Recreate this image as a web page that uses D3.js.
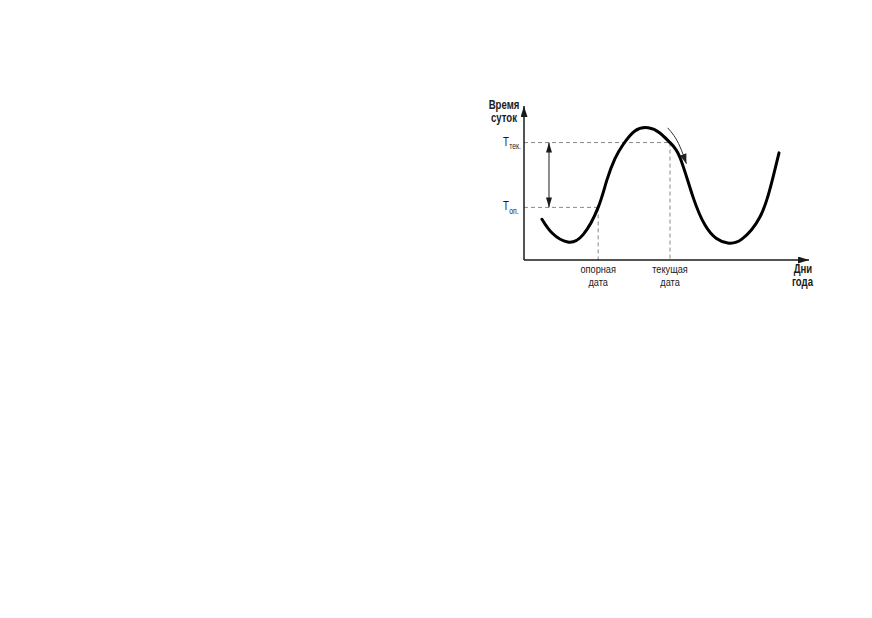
<!DOCTYPE html>
<html>
<head>
<meta charset="utf-8">
<script src="https://cdn.jsdelivr.net/npm/d3@7"></script>
<style>
  html, body { margin: 0; padding: 0; background: #fff; }
  svg { display: block; }
  text { font-family: "Liberation Sans", Arial, sans-serif; fill: #1a1a1a; }
</style>
</head>
<body>
<script>
// ---- data (days of year, hours of day) ----
const curveDays  = [23, 36, 56, 76, 95, 106, 116.5, 127, 142, 159, 174, 187, 200, 216.5, 232, 246, 261, 279, 302, 316, 326.6];
const curveHours = [6.35, 4.2, 2.8, 4.0, 8.2, 12.4, 15.8, 18.0, 20.1, 20.6, 19.8, 18.3, 15.9, 9.8, 5.4, 3.4, 2.65, 3.25, 6.65, 11.5, 16.7];
const refDay = 95, refHour = 8.2;      // опорная дата / Топ.
const curDay = 187, curHour = 18.3;    // текущая дата / Ттек.
const dirArrowDays  = [184, 192, 200, 208];
const dirArrowHours = [20.6, 19.4, 17.6, 15.0];
const xLabels = ["опорная", "дата", "текущая", "дата"];
const yTitle = ["Время", "суток"];
const xTitle = ["Дни", "года"];

const W = 872, H = 618;
const SX = 0.8; // condensed look
const x = d3.scaleLinear().domain([0, 365]).range([524, 809]);
const y = d3.scaleLinear().domain([0, 24]).range([260, 106]);

const svg = d3.select("body").append("svg").attr("width", W).attr("height", H);

const defs = svg.append("defs");
function marker(id, color, w, h, orient) {
  defs.append("marker").attr("id", id)
    .attr("viewBox", `0 0 ${w} ${h}`).attr("refX", w).attr("refY", h / 2)
    .attr("markerWidth", w).attr("markerHeight", h).attr("markerUnits", "userSpaceOnUse")
    .attr("orient", orient)
    .append("path").attr("d", `M0,0L${w},${h/2}L0,${h}Z`).attr("fill", color);
}
marker("axArrow", "#1a1a1a", 11, 7, "auto");
marker("dblArrow", "#1a1a1a", 10, 6, "auto-start-reverse");
marker("dirArrowHead", "#222", 10, 7, "auto");

// dashed guide lines
const dash = svg.append("g").attr("stroke", "#888").attr("stroke-width", 1).attr("stroke-dasharray", "4,3").attr("fill", "none");
dash.append("line").attr("x1", x(0)).attr("x2", x(curDay)).attr("y1", y(curHour)).attr("y2", y(curHour));
dash.append("line").attr("x1", x(curDay)).attr("x2", x(curDay)).attr("y1", y(curHour)).attr("y2", y(0));
dash.append("line").attr("x1", x(0)).attr("x2", x(refDay)).attr("y1", y(refHour)).attr("y2", y(refHour));
dash.append("line").attr("x1", x(refDay)).attr("x2", x(refDay)).attr("y1", y(refHour)).attr("y2", y(0));

// axes
svg.append("line").attr("x1", x(0)).attr("y1", y(0)).attr("x2", x(0)).attr("y2", y(24))
  .attr("stroke", "#1a1a1a").attr("stroke-width", 1.5).attr("marker-end", "url(#axArrow)");
svg.append("line").attr("x1", x(0)).attr("y1", y(0)).attr("x2", x(365)).attr("y2", y(0))
  .attr("stroke", "#1a1a1a").attr("stroke-width", 1.5).attr("marker-end", "url(#axArrow)");

// double arrow between Топ and Ттек
svg.append("line").attr("x1", x(32)).attr("x2", x(32)).attr("y1", y(curHour)).attr("y2", y(refHour))
  .attr("stroke", "#1a1a1a").attr("stroke-width", 1)
  .attr("marker-start", "url(#dblArrow)").attr("marker-end", "url(#dblArrow)");

// main curve
const pts = curveDays.map((d, i) => [d, curveHours[i]]);
svg.append("path").datum(pts)
  .attr("d", d3.line().x(d => x(d[0])).y(d => y(d[1])).curve(d3.curveNatural))
  .attr("fill", "none").attr("stroke", "#000").attr("stroke-width", 3).attr("stroke-linecap", "round");

// direction arrow
const ap = dirArrowDays.map((d, i) => [d, dirArrowHours[i]]);
svg.append("path").datum(ap)
  .attr("d", d3.line().x(d => x(d[0])).y(d => y(d[1])).curve(d3.curveNatural))
  .attr("fill", "none").attr("stroke", "#333").attr("stroke-width", 1)
  .attr("marker-end", "url(#dirArrowHead)");

function label(px, py, txt, size, bold, anchor) {
  const t = svg.append("text").attr("transform", `translate(${px},${py}) scale(${SX},1)`)
    .attr("text-anchor", anchor || "middle").attr("font-size", size);
  if (bold) t.attr("font-weight", "bold");
  t.text(txt);
  return t;
}

// y-axis labels T
function tLabel(hour, sub) {
  const t = svg.append("text").attr("transform", `translate(503,${y(hour) + 3}) scale(${SX},1)`).attr("font-size", 12);
  t.append("tspan").text("Т");
  t.append("tspan").attr("dy", 3.5).attr("dx", 0.5).attr("font-size", 8.5).text(sub);
}
tLabel(curHour, "тек.");
tLabel(refHour, "оп.");

// axis titles
label(504, 108.5, yTitle[0], 12, true);
label(504, 121.5, yTitle[1], 12, true);
label(803, 273, xTitle[0], 12, true);
label(802.5, 286, xTitle[1], 12, true);

// date labels
[[refDay, 0], [curDay, 2]].forEach(([d, i]) => {
  label(x(d), 273, xLabels[i], 11.5, false);
  label(x(d), 285.5, xLabels[i + 1], 11.5, false);
});
</script>
</body>
</html>
